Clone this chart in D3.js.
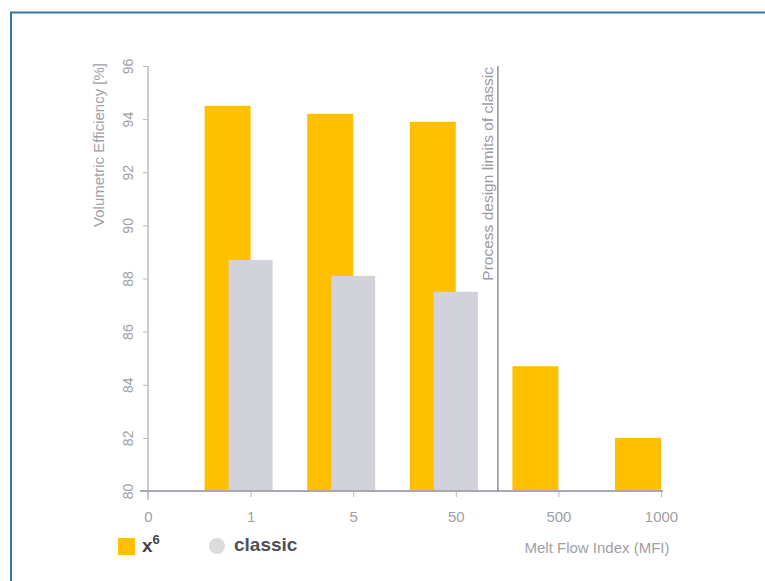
<!DOCTYPE html>
<html><head><meta charset="utf-8">
<script src="https://cdn.jsdelivr.net/npm/d3@7"></script>
<style>
html,body{margin:0;padding:0;background:#fff;}
svg{display:block;font-family:"Liberation Sans",Arial,sans-serif;}
</style></head>
<body>
<svg id="c" width="765" height="581"></svg>
<script>
const tickLabels = ["0","1","5","50","500","1000"];
const categories = ["1","5","50","500","1000"];
const x6Values = [94.5, 94.2, 93.9, 84.7, 82.0];
const classicValues = [88.7, 88.1, 87.5, null, null];
const yTicks = [80,82,84,86,88,90,92,94,96];

const svg = d3.select("#c");
// frame
svg.append("path").attr("d","M11,590V12.5H780").attr("fill","none").attr("stroke","#2f79a8").attr("stroke-width",2);

const x = d3.scalePoint().domain(tickLabels).range([148,661]);
const y = d3.scaleLinear().domain([80,96]).range([491,66]);
const step = x.step();

const axisCol = "#b9b9bf", textCol = "#a0a0a4";

// bars x6
svg.append("g").selectAll("rect").data(categories).join("rect")
  .attr("x", d => x(d) - 46).attr("width", 46)
  .attr("y", (d,i) => y(x6Values[i])).attr("height", (d,i) => y(80) - y(x6Values[i]))
  .attr("fill", "#ffc000");
// bars classic
svg.append("g").selectAll("rect").data(categories.filter((d,i)=>classicValues[i]!=null)).join("rect")
  .attr("x", d => x(d) - 22).attr("width", 44)
  .attr("y", (d,i) => y(classicValues[i])).attr("height", (d,i) => y(80) - y(classicValues[i]))
  .attr("fill", "#d1d2da");

// y axis
const ya = svg.append("g").attr("transform","translate(148,0)")
  .call(d3.axisLeft(y).tickValues(yTicks).tickSize(5).tickPadding(0));
ya.select(".domain").remove();
ya.selectAll(".tick line").attr("stroke", axisCol);
ya.selectAll(".tick text").attr("fill", textCol).attr("font-size", 14)
  .attr("transform","translate(-20,0) rotate(-90)").attr("text-anchor","middle").attr("dy","0.35em").attr("x",0);
svg.append("line").attr("x1",148).attr("x2",148).attr("y1",y(96)).attr("y2",y(80)+9).attr("stroke",axisCol).attr("stroke-width",1.5);

// x axis
const xa = svg.append("g").attr("transform",`translate(0,${y(80)})`)
  .call(d3.axisBottom(x).tickSize(6).tickPadding(14));
xa.select(".domain").remove();
xa.selectAll(".tick line").attr("stroke", axisCol);
xa.selectAll(".tick text").attr("fill", textCol).attr("font-size", 15);
svg.append("line").attr("x1",140).attr("x2",663).attr("y1",y(80)).attr("y2",y(80)).attr("stroke","#a8a8b0").attr("stroke-width",2);

// y label
svg.append("text").attr("transform",`translate(104,${y(96)-3}) rotate(-90)`).attr("text-anchor","end")
  .attr("fill",textCol).attr("font-size",15).text("Volumetric Efficiency [%]");

// limit line
const lx = x("50") + step*0.41;
svg.append("line").attr("x1",lx).attr("x2",lx).attr("y1",y(96)).attr("y2",y(80)).attr("stroke","#8d8d93").attr("stroke-width",1.5);
svg.append("text").attr("transform",`translate(${lx-5},${y(96)+1}) rotate(-90)`).attr("text-anchor","end")
  .attr("fill","#9a9aa6").attr("font-size",15.5).text("Process design limits of classic");

// x label
svg.append("text").attr("x",597).attr("y",553).attr("text-anchor","middle").attr("fill",textCol).attr("font-size",15)
  .text("Melt Flow Index (MFI)");

// legend
svg.append("rect").attr("x",118).attr("y",538).attr("width",17).attr("height",17).attr("fill","#ffc000");
const t = svg.append("text").attr("x",142).attr("y",552).attr("fill","#444").attr("font-size",19).attr("font-weight","bold");
t.append("tspan").text("x");
t.append("tspan").attr("dy",-8).attr("font-size",13).text("6");
svg.append("circle").attr("cx",217).attr("cy",546).attr("r",8).attr("fill","#dcdcdf");
svg.append("text").attr("x",234).attr("y",551).attr("fill","#505055").attr("font-size",19).attr("font-weight","bold").text("classic");
</script>
</body></html>
